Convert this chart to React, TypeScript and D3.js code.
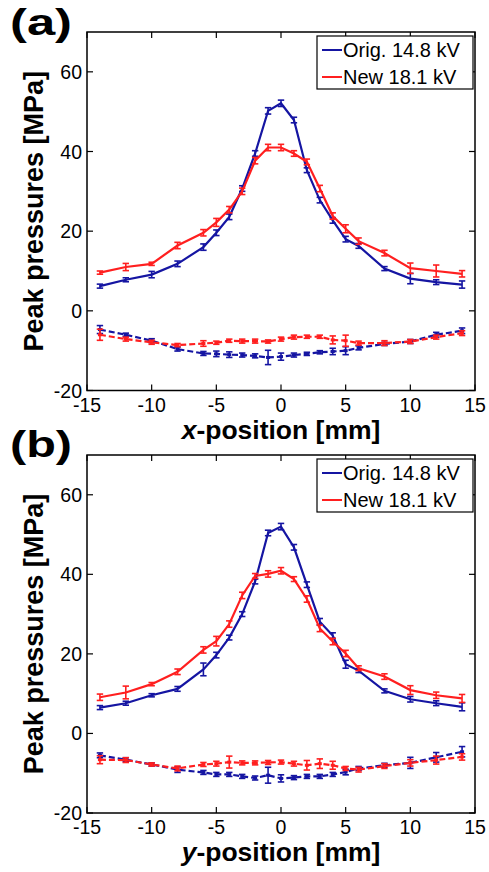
import React from "react";
import * as d3 from "d3";

const xPos = [-14, -12, -10, -8, -6, -5, -4, -3, -2, -1, 0, 1, 2, 3, 4, 5, 6, 8, 10, 12, 14];
const xTicks = [-15, -10, -5, 0, 5, 10, 15];
const yTicks = [-20, 0, 20, 40, 60];
const seriesNames = ["Orig. 14.8 kV", "New 18.1 kV"];

// Panel (a)
const aBluePos = [6.2, 7.8, 9.1, 11.8, 16.0, 19.6, 23.6, 30.7, 39.5, 50.2, 52.1, 47.9, 35.3, 27.8, 22.7, 18.0, 16.3, 10.6, 8.1, 7.2, 6.6];
const aBluePosErr = [0.5, 0.5, 0.8, 0.7, 0.8, 0.7, 0.7, 0.7, 0.7, 0.8, 0.8, 0.7, 0.6, 0.7, 0.7, 0.7, 0.6, 0.5, 1.3, 0.6, 0.9];
const aRedPos = [9.6, 11.0, 11.8, 16.4, 19.6, 22.2, 25.4, 30.0, 37.7, 41.0, 41.0, 39.5, 37.4, 30.7, 23.8, 20.6, 17.5, 14.5, 10.7, 10.0, 9.3];
const aRedPosErr = [0.4, 0.9, 0.4, 0.8, 0.8, 1.0, 0.8, 0.8, 0.8, 0.8, 0.8, 0.7, 0.7, 0.8, 0.8, 1.0, 0.8, 0.7, 1.3, 1.5, 0.8];
const aBlueNeg = [-4.7, -6.0, -7.5, -9.6, -10.7, -10.8, -11.0, -11.1, -11.3, -11.7, -11.5, -11.1, -10.8, -10.4, -10.2, -10.0, -9.3, -8.3, -7.7, -6.0, -5.0];
const aBlueNegErr = [1.0, 0.4, 0.5, 0.5, 0.5, 0.7, 0.7, 0.5, 0.5, 1.8, 0.9, 0.5, 0.4, 0.4, 0.8, 1.0, 0.5, 0.4, 0.5, 0.6, 0.7];
const aRedNeg = [-6.0, -7.1, -7.9, -8.6, -8.2, -8.0, -7.5, -7.6, -7.6, -7.7, -7.1, -6.6, -6.5, -6.5, -7.3, -7.5, -8.1, -8.1, -7.7, -6.6, -5.6];
const aRedNegErr = [1.4, 0.5, 0.5, 0.4, 0.7, 0.4, 0.4, 0.5, 0.5, 0.4, 0.5, 0.5, 0.4, 0.4, 1.0, 1.4, 0.5, 0.6, 0.5, 0.5, 0.6];

// Panel (b)
const bBluePos = [6.5, 7.6, 9.6, 11.2, 16.1, 19.7, 24.1, 30.0, 38.2, 50.4, 52.0, 46.8, 37.4, 28.1, 24.6, 17.4, 15.8, 10.7, 8.6, 7.6, 6.7];
const bBluePosErr = [0.5, 0.5, 0.4, 0.6, 1.6, 0.7, 0.6, 0.6, 0.6, 0.7, 0.8, 0.7, 0.7, 0.8, 0.7, 1.0, 0.5, 0.5, 0.7, 0.6, 1.0];
const bRedPos = [9.1, 10.3, 12.4, 15.5, 21.0, 23.2, 27.5, 34.7, 39.6, 40.1, 40.9, 38.8, 33.8, 26.4, 23.1, 20.1, 16.4, 14.3, 10.9, 9.6, 8.8];
const bRedPosErr = [0.8, 1.6, 0.4, 0.7, 0.8, 1.2, 0.8, 0.8, 0.6, 0.8, 0.8, 0.6, 0.8, 0.8, 0.8, 0.8, 0.6, 0.7, 1.1, 0.8, 1.0];
const bBlueNeg = [-5.5, -6.6, -7.8, -9.1, -9.8, -10.3, -10.3, -10.8, -11.2, -10.5, -11.3, -11.1, -10.8, -10.8, -10.3, -9.7, -8.8, -8.0, -7.4, -6.0, -4.6];
const bBlueNegErr = [0.6, 0.5, 0.4, 0.7, 0.5, 0.5, 0.5, 0.5, 0.5, 2.0, 0.9, 0.5, 0.5, 0.5, 0.5, 0.7, 0.5, 0.5, 1.4, 1.2, 1.3];
const bRedNeg = [-6.6, -6.7, -7.8, -8.8, -7.8, -7.6, -7.2, -7.4, -7.4, -7.3, -7.2, -7.6, -8.0, -7.6, -8.0, -8.8, -9.1, -8.2, -7.4, -6.7, -5.9];
const bRedNegErr = [1.0, 0.6, 0.4, 0.6, 0.5, 0.6, 1.5, 0.5, 0.5, 0.5, 0.5, 0.6, 1.2, 1.2, 1.0, 0.5, 0.6, 0.6, 0.8, 1.0, 0.8];

const BLUE = "#1515a2";
const RED = "#ff1f1f";
const FONT = "'Liberation Sans', Arial, Helvetica, sans-serif";

type Series = { vals: number[]; err: number[]; color: string; dashed: boolean };

function Panel(props: {
  top: number;
  bottom: number;
  label: string;
  labelY: number;
  xLabelVar: string;
  xLabelY: number;
  series: Series[];
}) {
  const { top, bottom, label, labelY, xLabelVar, xLabelY, series } = props;
  const left = 87;
  const right = 475;
  const x = d3.scaleLinear().domain([-15, 15]).range([left, right]);
  const y = d3.scaleLinear().domain([-20, 70]).range([bottom, top]);
  const tick = 6;
  const line = d3
    .line<number>()
    .x((_, i) => x(xPos[i]))
    .y((d) => y(d));
  const cap = 3.2;
  return (
    <g>
      <text x={10} y={labelY} fontFamily={FONT} fontWeight="bold" fontSize={37} textLength={62} lengthAdjust="spacingAndGlyphs">
        {label}
      </text>
      {/* axes box */}
      <rect x={left} y={top} width={right - left} height={bottom - top} fill="none" stroke="#000" strokeWidth={1.5} />
      {xTicks.map((t) => (
        <g key={"xt" + t}>
          <line x1={x(t)} x2={x(t)} y1={bottom} y2={bottom - tick} stroke="#000" strokeWidth={1.2} />
          <line x1={x(t)} x2={x(t)} y1={top} y2={top + tick} stroke="#000" strokeWidth={1.2} />
          <text x={x(t)} y={bottom + 21} textAnchor="middle" fontFamily={FONT} fontSize={19.5}>
            {t}
          </text>
        </g>
      ))}
      {yTicks.map((t) => (
        <g key={"yt" + t}>
          <line x1={left} x2={left + tick} y1={y(t)} y2={y(t)} stroke="#000" strokeWidth={1.2} />
          <line x1={right} x2={right - tick} y1={y(t)} y2={y(t)} stroke="#000" strokeWidth={1.2} />
          <text x={left - 5} y={y(t) + 7} textAnchor="end" fontFamily={FONT} fontSize={19.5}>
            {t}
          </text>
        </g>
      ))}
      {series.map((s, si) => (
        <g key={"s" + si}>
          <path
            d={line(s.vals) || ""}
            fill="none"
            stroke={s.color}
            strokeWidth={2.2}
            strokeDasharray={s.dashed ? "6,3" : undefined}
          />
          {s.vals.map((v, i) => {
            const cx = x(xPos[i]);
            const y1 = y(v - s.err[i]);
            const y2 = y(v + s.err[i]);
            return (
              <g key={i} stroke={s.color} strokeWidth={1.6}>
                <line x1={cx} x2={cx} y1={y1} y2={y2} />
                <line x1={cx - cap} x2={cx + cap} y1={y1} y2={y1} />
                <line x1={cx - cap} x2={cx + cap} y1={y2} y2={y2} />
                {s.dashed ? <rect x={cx - 2} y={y(v) - 1.5} width={4} height={3} fill={s.color} stroke="none" /> : null}
              </g>
            );
          })}
        </g>
      ))}
      {/* legend */}
      <g>
        <rect x={317} y={top + 4} width={156} height={53} fill="#fff" stroke="#000" strokeWidth={1.2} />
        {seriesNames.map((n, i) => {
          const ly = top + 18 + i * 27;
          return (
            <g key={n}>
              <line x1={322} x2={342} y1={ly} y2={ly} stroke={i === 0 ? BLUE : RED} strokeWidth={2} />
              <text x={343} y={ly + 7} fontFamily={FONT} fontSize={20}>
                {n}
              </text>
            </g>
          );
        })}
      </g>
      {/* y label */}
      <text
        transform={`translate(43,${(top + bottom) / 2}) rotate(-90)`}
        textAnchor="middle"
        fontFamily={FONT}
        fontWeight="bold"
        fontSize={27}
      >
        Peak pressures [MPa]
      </text>
      {/* x label */}
      <text x={(left + right) / 2} y={xLabelY} textAnchor="middle" fontFamily={FONT} fontWeight="bold" fontSize={26.5}>
        <tspan fontStyle="italic">{xLabelVar}</tspan>
        -position [mm]
      </text>
    </g>
  );
}

export default function App() {
  return (
    <svg
      width={489}
      height={872}
      style={{ position: "absolute", left: 0, top: 0, background: "#fff" }}
    >
      <rect width={489} height={872} fill="#fff" />
      <Panel
        top={32}
        bottom={390.5}
        label="(a)"
        labelY={35}
        xLabelVar="x"
        xLabelY={439}
        series={[
          { vals: aBluePos, err: aBluePosErr, color: BLUE, dashed: false },
          { vals: aRedPos, err: aRedPosErr, color: RED, dashed: false },
          { vals: aBlueNeg, err: aBlueNegErr, color: BLUE, dashed: true },
          { vals: aRedNeg, err: aRedNegErr, color: RED, dashed: true },
        ]}
      />
      <Panel
        top={455}
        bottom={813}
        label="(b)"
        labelY={457}
        xLabelVar="y"
        xLabelY={861}
        series={[
          { vals: bBluePos, err: bBluePosErr, color: BLUE, dashed: false },
          { vals: bRedPos, err: bRedPosErr, color: RED, dashed: false },
          { vals: bBlueNeg, err: bBlueNegErr, color: BLUE, dashed: true },
          { vals: bRedNeg, err: bRedNegErr, color: RED, dashed: true },
        ]}
      />
    </svg>
  );
}
